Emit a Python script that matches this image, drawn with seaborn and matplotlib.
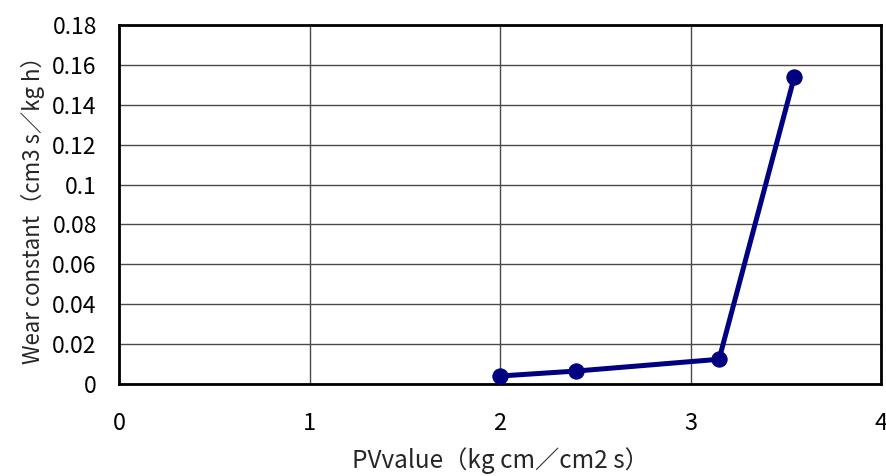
import matplotlib
matplotlib.use("Agg")
import matplotlib.pyplot as plt
import seaborn as sns
import pandas as pd

pv_value = [2.0, 2.4, 3.15, 3.545]
wear_constant = [0.004, 0.0065, 0.0124, 0.154]
x_ticks = [0, 1, 2, 3, 4]
y_ticks = [0, 0.02, 0.04, 0.06, 0.08, 0.1, 0.12, 0.14, 0.16, 0.18]
y_tick_labels = ["0", "0.02", "0.04", "0.06", "0.08", "0.1", "0.12", "0.14", "0.16", "0.18"]

sns.set_style("white")
plt.rcParams['font.family'] = ['Noto Sans CJK JP', 'DejaVu Sans']

df = pd.DataFrame({"pv": pv_value, "wear": wear_constant})

fig = plt.figure(figsize=(8.86, 4.76), dpi=100)
ax = fig.add_axes([119/886, 92/476, 762/886, 359/476])

sns.lineplot(data=df, x="pv", y="wear", ax=ax, color="#000080", linewidth=3.6,
             marker="o", markersize=11, markeredgecolor="#000080", sort=False, zorder=5)

ax.set_xlim(0, 4)
ax.set_ylim(0, 0.18)
ax.set_xticks(x_ticks)
ax.set_xticklabels([str(t) for t in x_ticks])
ax.set_yticks(y_ticks)
ax.set_yticklabels(y_tick_labels)
ax.grid(True, color="#4a4a4a", linewidth=1.0)
ax.set_axisbelow(True)
for s in ax.spines.values():
    s.set_color("black")
    s.set_linewidth(2.0)
    s.set_visible(True)
ax.tick_params(axis="both", length=0, colors="black")
ax.tick_params(axis="y", pad=16, labelsize=16.5)
ax.tick_params(axis="x", pad=20, labelsize=17)

ax.set_xlabel("PVvalue（kg cm／cm2 s）", fontsize=17.5, labelpad=9)
ax.set_ylabel("Wear constant（cm3 s／kg h）", fontsize=16, labelpad=5)

fig.savefig("out.png", dpi=100, facecolor="white")
